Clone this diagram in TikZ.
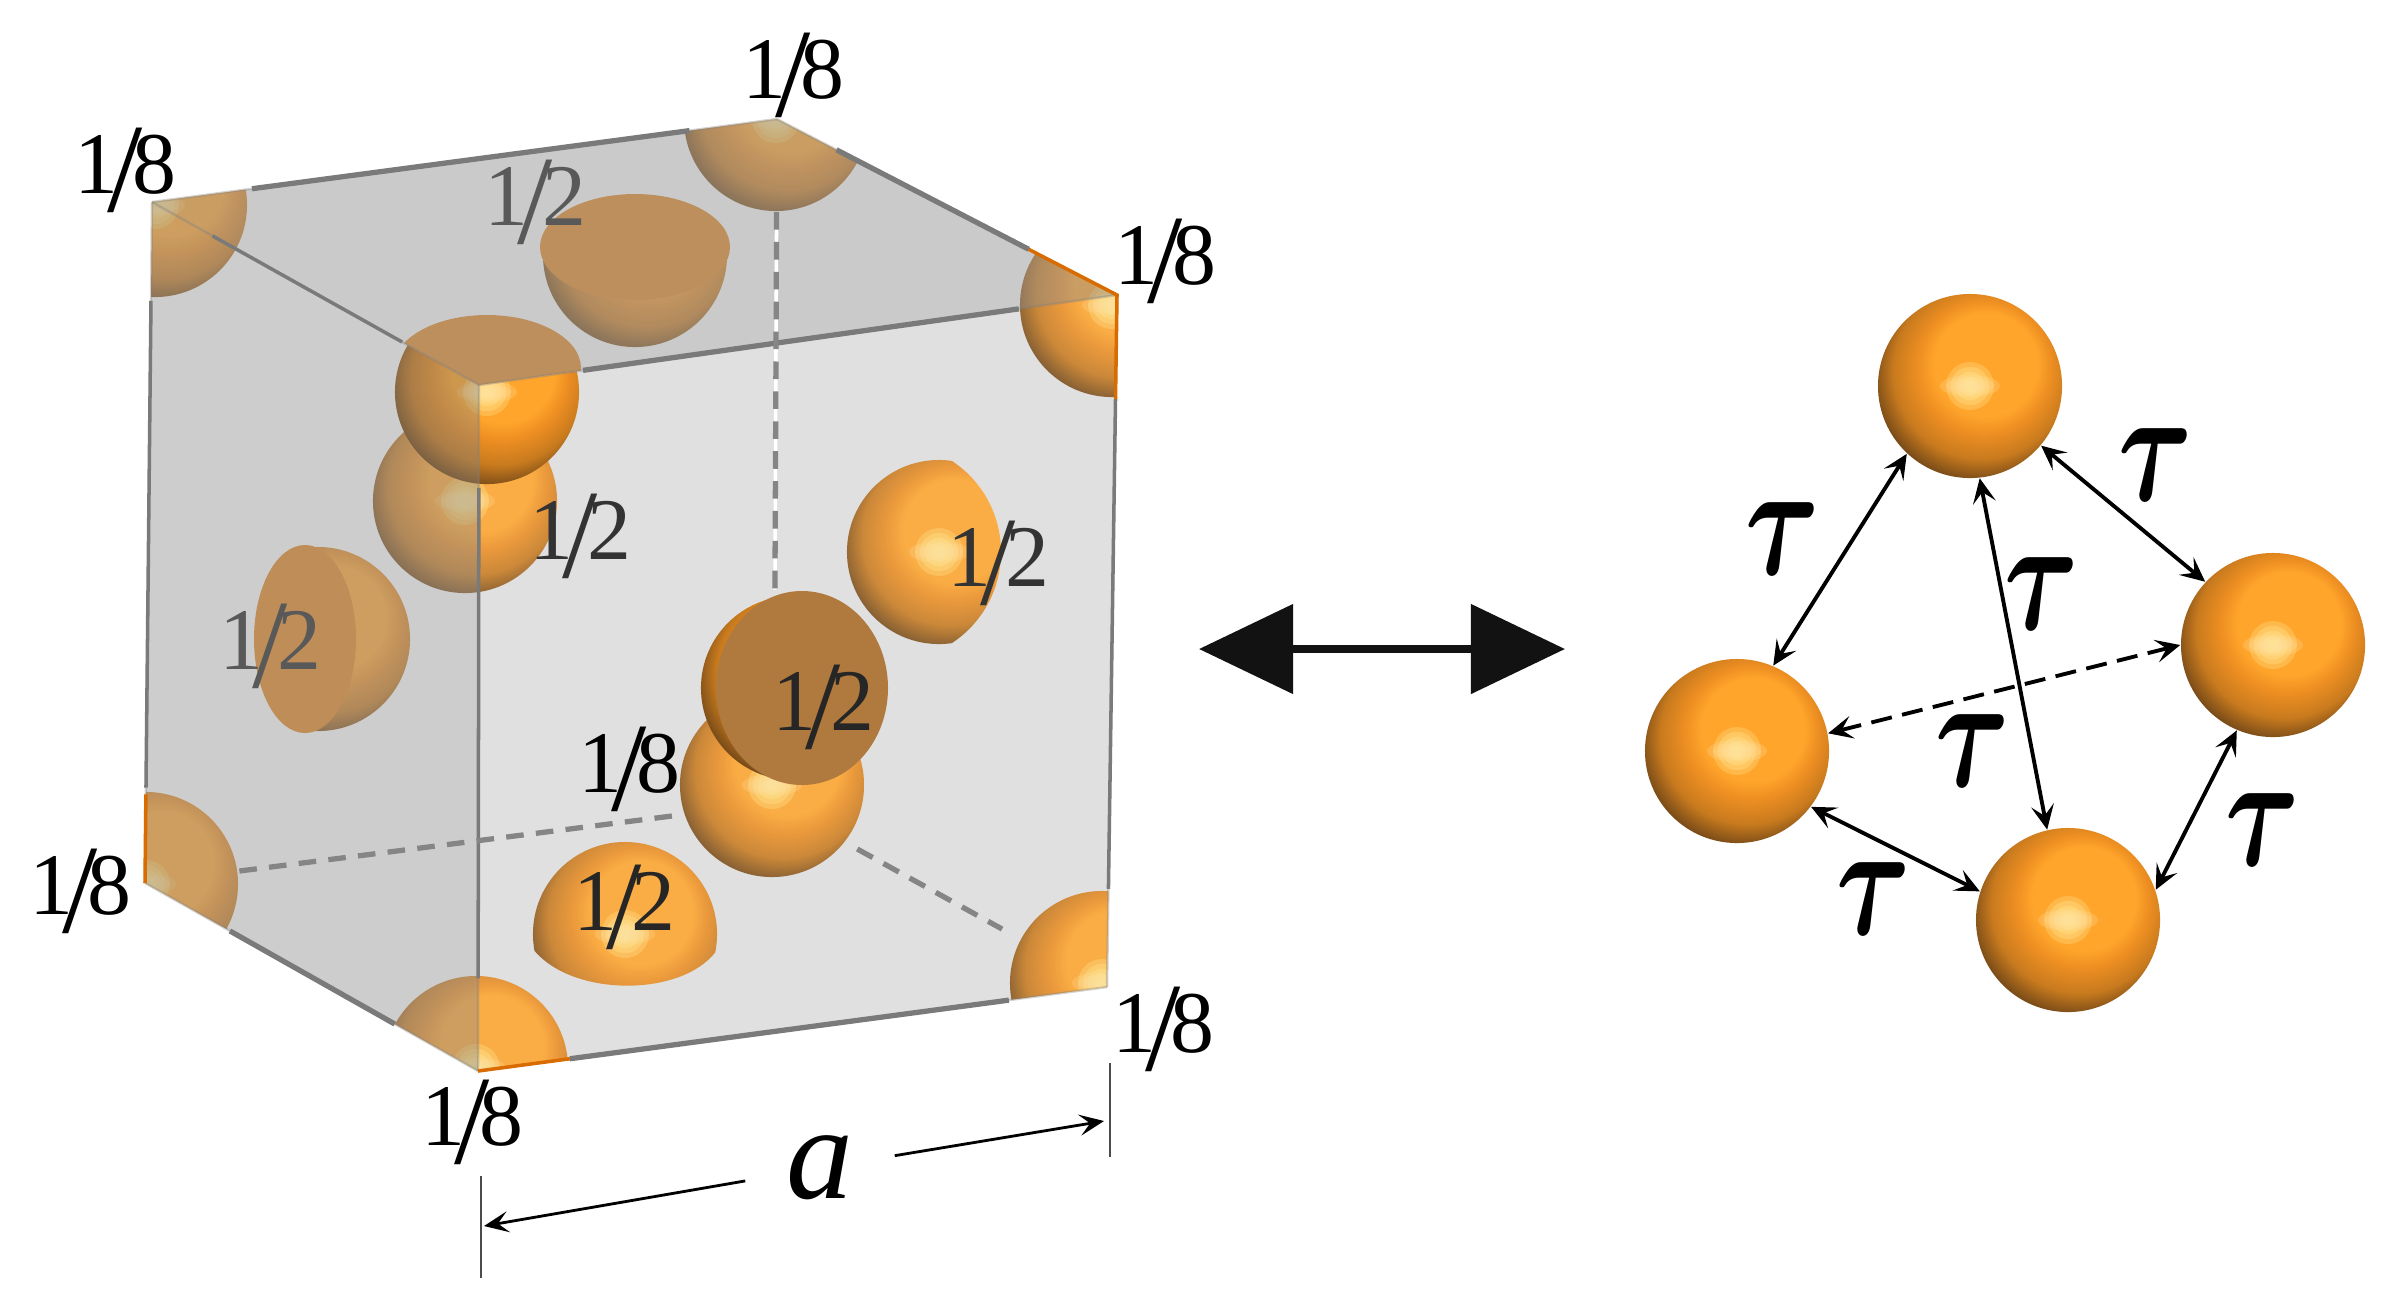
\documentclass[tikz,border=0pt]{standalone}
\usepackage{graphicx,amsmath,amssymb}
\usepackage{fontspec}
\setmainfont{Liberation Serif}
\usetikzlibrary{calc,arrows.meta}

\definecolor{ballhi}{HTML}{FFA52B}
\definecolor{ballmid}{HTML}{EE8F22}
\definecolor{ballrim}{HTML}{C87A1E}
\definecolor{ballbrown}{HTML}{7A4C18}
\definecolor{balldark}{HTML}{3C2815}
\definecolor{ballend}{HTML}{201810}
\definecolor{discorange}{HTML}{E8963C}
\definecolor{middisc}{HTML}{B07A3E}
\definecolor{spotcol}{HTML}{FFF0A0}
\definecolor{streakcol}{HTML}{FFE0A0}
\pgfdeclareradialshading{orangeshade}{\pgfpoint{6bp}{8bp}}{%
  color(0bp)=(ballhi);color(14bp)=(ballhi);color(18bp)=(ballmid);color(24bp)=(ballrim);
  color(29bp)=(ballbrown);color(33bp)=(balldark);color(36bp)=(ballend);color(50bp)=(ballend)}
\newcommand{\slashlab}[2]{#1\kern-3pt\raisebox{-5pt}{\fontsize{36}{36}\selectfont/}\kern-3pt#2}
\newcommand{\taumark}{\scalebox{1.3}[1.85]{$\boldsymbol{\tau}$}}

\tikzset{
  orangeball/.style={circle,minimum size=1.84cm,inner sep=0pt,shade,shading=orangeshade,
    path picture={
      \foreach \s in {1,.8,.6,.4,.25}
        \fill[spotcol,opacity=.28,shift={(path picture bounding box.center)},shift={(16,-26)}] (0,0) circle (24*\s);
      \foreach \s in {1,.8,.6,.4}
        \fill[streakcol,opacity=.25,shift={(path picture bounding box.center)},shift={(52,43)},rotate=-50]
          (0,0) ellipse [x radius=30*\s,y radius=11*\s];
    }},
  cubeball/.style={orangeball,opacity=.86},
  cutdisc/.style={fill=discorange},
  edgeline/.style={draw=black!52,line width=1pt},
  backedge/.style={draw=black!52,line width=1.5pt},
  hiddenedge/.style={draw=black!48,line width=1.5pt,dash pattern=on 5pt off 3.5pt},
  faintedge/.style={draw=black!50,line width=.7pt,opacity=.35},
  rimedge/.style={draw=orange!85!black,line width=1pt},
  leftface/.style={fill=black!49,opacity=.4},
  topface/.style={fill=black!47,opacity=.44},
  fraclab/.style={inner sep=0pt,font=\fontsize{25}{25}\selectfont},
  taulab/.style={inner sep=0pt,font=\fontsize{25}{25}\selectfont},
  bond/.style={line width=1.1pt,{Stealth[length=7pt,width=6.5pt,inset=3pt]}-{Stealth[length=7pt,width=6.5pt,inset=3pt]}},
  dimarrow/.style={line width=.8pt,-{Stealth[length=7pt,width=6pt,inset=3pt]}},
}

\begin{document}
\begin{tikzpicture}[x=0.01cm,y=-0.01cm]
    \useasboundingbox (0,0) rectangle (2389,1296);
    % cube corners
    \coordinate (A) at (152,202);
    \coordinate (B) at (777,119);
    \coordinate (C) at (1117,295);
    \coordinate (D) at (479,385);
    \coordinate (E) at (145,883);
    \coordinate (F) at (478,1071);
    \coordinate (G) at (1107,987);
    \coordinate (H) at (774,803);

    \fill[black!12] (D) -- (C) -- (G) -- (F) -- cycle;

    % atoms inside the cube
    \node[cubeball] (ballH) at (772,785) {};
    \begin{scope}
        \clip (A) -- (B) -- (C) -- (G) -- (F) -- (E) -- cycle;
        \node[cubeball] (ballA) at (155,205) {};
        \node[cubeball] (ballB) at (776,119) {};
        \node[cubeball] (ballC) at (1112,305) {};
        \node[cubeball] (ballE) at (146,884) {};
        \node[cubeball] (ballF) at (476,1068) {};
        \node[cubeball] (ballG) at (1102,983) {};
    \end{scope}
    \node[cubeball] (ballback) at (465,501) {};
    \begin{scope}
        \clip (305,500) rectangle (450,800);
        \node[cubeball] (ballleft) at (318,639) {};
    \end{scope}
    \fill[cutdisc] (305,639) ellipse [x radius=51,y radius=94];
    \begin{scope}
        \clip (520,250) rectangle (750,360);
        \node[cubeball] (balltop) at (635,255) {};
    \end{scope}
    \fill[cutdisc] (635,247) ellipse [x radius=95,y radius=53];
    \begin{scope}
        \clip (892,552) circle (109);
        \node[cubeball] (ballright) at (939,552) {};
    \end{scope}
    \begin{scope}
        \clip (527,940) .. controls (560,1000) and (690,1000) .. (720,945) -- (720,800) -- (527,800) -- cycle;
        \node[cubeball] (ballfront) at (625,934) {};
    \end{scope}
    \node[orangeball] (ballmid) at (793,688) {};
    \fill[middisc] (802,688) ellipse [x radius=86,y radius=97];
    \begin{scope}
        \clip (A) -- (D) -- (C) -- (G) -- (F) -- (E) -- cycle;
        \node[orangeball] (ballD) at (487,392) {};
    \end{scope}
    \begin{scope}
        \clip (A) -- (B) -- (C) -- (D) -- cycle;
        \fill[cutdisc] (487,368) ellipse [x radius=94,y radius=53];
    \end{scope}

    % grey faces
    \fill[leftface] (A) -- (D) -- (F) -- (E) -- cycle;
    \fill[topface] (A) -- (B) -- (C) -- (D) -- cycle;

    % edges
    \foreach \p/\q in {A/B,B/C,D/C,A/D,D/F,C/G,A/E,E/F,F/G}
        \draw[faintedge] (\p) -- (\q);
    \draw[backedge] ($(A)!.16!(B)$) -- ($(A)!.86!(B)$);
    \draw[backedge] ($(B)!.175!(C)$) -- ($(B)!.74!(C)$);
    \draw[backedge] ($(D)!.163!(C)$) -- ($(D)!.846!(C)$);
    \draw[edgeline] ($(A)!.185!(D)$) -- ($(A)!.765!(D)$);
    \draw[edgeline] ($(A)!.145!(E)$) -- ($(A)!.86!(E)$);
    \draw[edgeline] ($(D)!.15!(F)$) -- ($(D)!.865!(F)$);
    \draw[edgeline] ($(C)!.15!(G)$) -- ($(C)!.858!(G)$);
    \draw[backedge] ($(E)!.255!(F)$) -- ($(E)!.75!(F)$);
    \draw[backedge] ($(F)!.146!(G)$) -- ($(F)!.844!(G)$);
    \draw[white,line width=1pt] ($(B)!.136!(H)$) -- ($(B)!.688!(H)$);
    \draw[hiddenedge] ($(B)!.136!(H)$) -- ($(B)!.688!(H)$);
    \draw[hiddenedge] ($(E)!.15!(H)$) -- ($(E)!.845!(H)$);
    \draw[hiddenedge] ($(H)!.25!(G)$) -- ($(H)!.685!(G)$);
    % orange rims at the cut corners
    \draw[rimedge] ($(C)!.26!(B)$) -- (C) -- ($(C)!.15!(G)$);
    \draw[rimedge] ($(E)!.13!(A)$) -- (E);
    \draw[rimedge] (F) -- ($(F)!.146!(G)$);

    % occupation labels
    \node[fraclab] (labB) at (793,75) {\slashlab{1}{8}};
    \node[fraclab] (labA) at (125,170) {\slashlab{1}{8}};
    \node[fraclab] (labC) at (1165,261) {\slashlab{1}{8}};
    \node[fraclab] (labE) at (80,891) {\slashlab{1}{8}};
    \node[fraclab] (labF) at (472,1122) {\slashlab{1}{8}};
    \node[fraclab] (labG) at (1163,1029) {\slashlab{1}{8}};
    \node[fraclab] (labH) at (629,769) {\slashlab{1}{8}};
    \node[fraclab,black!65] (labtop) at (535,202) {\slashlab{1}{2}};
    \node[fraclab,black!80] (labback) at (580,536) {\slashlab{1}{2}};
    \node[fraclab,black!80] (labright) at (998,563) {\slashlab{1}{2}};
    \node[fraclab,black!65] (lableft) at (270,646) {\slashlab{1}{2}};
    \node[fraclab,black!85] (labmid) at (823,707) {\slashlab{1}{2}};
    \node[fraclab,black!85] (labfront) at (624,907) {\slashlab{1}{2}};

    % lattice constant
    \node[inner sep=0pt,minimum width=1.48cm,font=\fontsize{38}{38}\selectfont\itshape] (alab) at (820,1168) {a};
    \coordinate (tickLa) at (481,1176);
    \coordinate (tickLb) at (481,1278);
    \coordinate (tickRa) at (1110,1063);
    \coordinate (tickRb) at (1110,1157);
    \coordinate (dimL) at (484,1226);
    \coordinate (dimR) at (1104,1121);
    \draw[black!70,line width=.4pt] (tickLa) -- (tickLb);
    \draw[black!70,line width=.4pt] (tickRa) -- (tickRb);
    \draw[dimarrow] (alab) -- (dimL);
    \draw[dimarrow] (alab) -- (dimR);

    % big double arrow
    \coordinate (bigL) at (1199,649);
    \coordinate (bigR) at (1565,649);
    \draw[black!93,line width=2.3pt,{Triangle[length=.94cm,width=.88cm]}-{Triangle[length=.94cm,width=.88cm]}] (bigL) -- (bigR);

    % tetrahedron
    \node[orangeball] (top) at (1970,386) {};
    \node[orangeball] (right) at (2273,645) {};
    \node[orangeball] (left) at (1737,751) {};
    \node[orangeball] (bottom) at (2068,920) {};
    \draw[bond] (top.227) -- (left.67);
    \draw[bond] (top.320) -- (right.137);
    \draw[bond] (top.276) -- (bottom.103);
    \draw[bond,dash pattern=on 6pt off 3pt] (right.180) -- (left.11);
    \draw[bond] (left.323) -- (bottom.162);
    \draw[bond] (right.247) -- (bottom.19);
    \node[taulab] (tauA) at (1783,539) {\taumark};
    \node[taulab] (tauB) at (2156,465) {\taumark};
    \node[taulab] (tauC) at (2042,594) {\taumark};
    \node[taulab] (tauD) at (1973,751) {\taumark};
    \node[taulab] (tauE) at (2263,830) {\taumark};
    \node[taulab] (tauF) at (1874,899) {\taumark};
\end{tikzpicture}
\end{document}
